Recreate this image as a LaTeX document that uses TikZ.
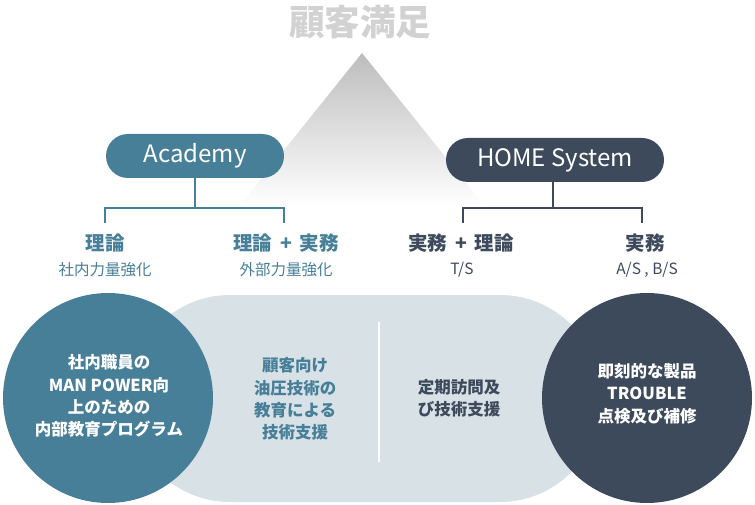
\documentclass[tikz,border=0pt]{standalone}
\usepackage{fontspec}
\setmainfont{Noto Sans CJK JP}
\definecolor{teal1}{HTML}{477F98}
\definecolor{dark1}{HTML}{3D4A5C}
\definecolor{light1}{HTML}{D8E1E6}
\definecolor{title1}{HTML}{D2D2D2}
\tikzset{
  pill/.style={rounded corners=22pt, minimum height=44pt, inner sep=0pt, text=white, font=\fontsize{24}{26}\selectfont},
  bigcirc/.style={circle, minimum size=210pt, inner sep=0pt},
  head/.style={font=\bfseries\fontsize{19.5}{22}\selectfont},
  sub/.style={font=\fontsize{15.5}{17}\selectfont},
  body/.style={align=center, font=\bfseries\fontsize{16.5}{22.3}\selectfont},
  bracket/.style={line width=1.2pt}
}
\begin{document}
\begin{tikzpicture}[x=1pt,y=-1pt]
\useasboundingbox (0,0) rectangle (755,505);
% title and triangle
\node[text=title1, font=\bfseries\fontsize{35.5}{38}\selectfont] (title) at (360,22) {顧客満足};
\shade[top color=black!26, bottom color=white] (362,53) -- (240,205) -- (484,205) -- cycle;
% pills
\node[pill, fill=teal1, minimum width=178pt] (aca) at (195,156) {Academy};
\node[pill, fill=dark1, minimum width=218pt] (home) at (555,160) {HOME System};
% brackets
\coordinate (aj) at (195,208);
\coordinate (ab1) at (105,223);
\coordinate (ab2) at (284,223);
\draw[bracket, teal1] (aca.south) -- (aj);
\draw[bracket, teal1] (ab1) -- (ab1 |- aj) -- (ab2 |- aj) -- (ab2);
\coordinate (hj) at (553,208);
\coordinate (hb1) at (463,223);
\coordinate (hb2) at (642,223);
\draw[bracket, dark1] (home.south -| hj) -- (hj);
\draw[bracket, dark1] (hb1) -- (hb1 |- hj) -- (hb2 |- hj) -- (hb2);
% labels
\node[head, text=teal1] (l1) at (105,243) {理論};
\node[sub, text=teal1] (s1) at (105,270) {社内力量強化};
\node[head, text=teal1] (l2) at (286,243) {理論 \,+\, 実務};
\node[sub, text=teal1] (s2) at (286,270) {外部力量強化};
\node[head, text=dark1] (l3) at (461,243) {実務 \,+\, 理論};
\node[sub, text=dark1] (s3) at (462,270) {T/S};
\node[head, text=dark1] (l4) at (645,243) {実務};
\node[sub, text=dark1] (s4) at (647,270) {A/S , B/S};
% big shapes
\node[fill=light1, rounded corners=100pt, minimum width=470pt, minimum height=207pt, inner sep=0pt] (band) at (365,398.5) {};
\coordinate (dv1) at (379,322);
\coordinate (dv2) at (379,462);
\draw[white, line width=1.5pt] (dv1) -- (dv2);
\node[bigcirc, fill=teal1] (c1) at (108,398) {};
\node[bigcirc, fill=dark1] (c2) at (647,398) {};
% texts
\node[body, text=white] (t1) at (109,396) {社内職員の\\MAN POWER向\\上のための\\内部教育プログラム};
\node[body, text=teal1] (t2) at (295,399) {顧客向け\\油圧技術の\\教育による\\技術支援};
\node[body, text=dark1] (t3) at (459,398.5) {定期訪問及\\び技術支援};
\node[body, text=white] (t4) at (647,393.5) {即刻的な製品\\TROUBLE\\点検及び補修};
\end{tikzpicture}
\end{document}
